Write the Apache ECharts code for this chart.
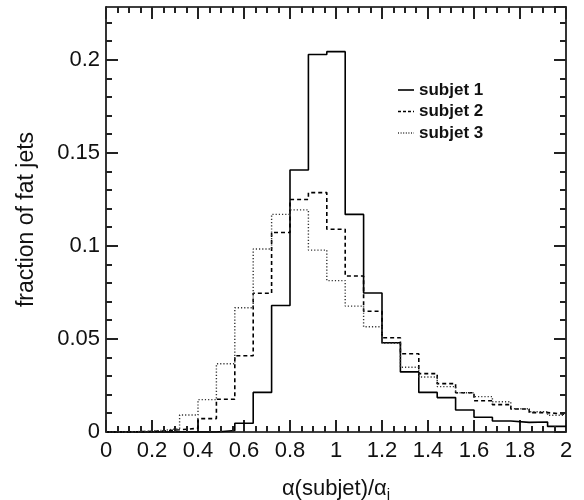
<!DOCTYPE html>
<html>
<head>
<meta charset="utf-8">
<script src="https://cdn.jsdelivr.net/npm/echarts@6/dist/echarts.min.js"></script>
<style>
html,body{margin:0;padding:0;background:#fff;}
#chart{width:584px;height:500px;}
</style>
</head>
<body>
<div id="chart"></div>
<script>
// histogram binning: 25 bins of width 0.08 from 0 to 2
var binStart = 0;
var binWidth = 0.08;
var seriesNames = ['subjet 1', 'subjet 2', 'subjet 3'];
var subjet1 = [0, 0, 0, 0, 0, 0, 0.0008, 0.0047, 0.0213, 0.068, 0.1409, 0.203, 0.2045, 0.117, 0.0747, 0.048, 0.0323, 0.0213, 0.0185, 0.0118, 0.0079, 0.0059, 0.0052, 0.0054, 0.003];
var subjet2 = [0, 0.0002, 0.0005, 0.0012, 0.002, 0.0072, 0.0176, 0.041, 0.0746, 0.1073, 0.125, 0.1287, 0.109, 0.0839, 0.0649, 0.0507, 0.0421, 0.0314, 0.026, 0.0211, 0.0168, 0.0147, 0.0124, 0.0104, 0.0095];
var subjet3 = [0, 0.0003, 0.0008, 0.0018, 0.0091, 0.0174, 0.0367, 0.0668, 0.0984, 0.117, 0.1194, 0.0978, 0.0814, 0.0677, 0.0566, 0.0477, 0.0348, 0.0296, 0.0244, 0.0211, 0.019, 0.0163, 0.0125, 0.0109, 0.009];
var xTickValues = [0, 0.2, 0.4, 0.6, 0.8, 1, 1.2, 1.4, 1.6, 1.8, 2];
var yTickValues = [0, 0.05, 0.1, 0.15, 0.2];
var yTickLabels = ['0', '0.05', '0.1', '0.15', '0.2'];
var xMinorPerMajor = 4;
var yMinorPerMajor = 5;

function histData(vals) {
  var d = [];
  for (var i = 0; i < vals.length; i++) d.push([binStart + i * binWidth, vals[i]]);
  d.push([binStart + vals.length * binWidth, vals[vals.length - 1]]);
  return d;
}

var FONT = '"Liberation Sans", Arial, Helvetica, sans-serif';
var X_MIN = 0, X_MAX = 2, Y_MIN = 0, Y_MAX = 0.2285;
var MAJOR_LEN = 12, MINOR_LEN = 6;
var TICK_W = 2, TICK_COLOR = '#222';
var chart = echarts.init(document.getElementById('chart'));

function xAxisDef(pos, showLabels) {
  return {
    type: 'value', position: pos, min: X_MIN, max: X_MAX, interval: 0.2,
    axisLine: {show: true, onZero: false, lineStyle: {color: '#000', width: 1.6}},
    axisTick: {show: true, inside: true, length: MAJOR_LEN, lineStyle: {color: TICK_COLOR, width: TICK_W}},
    splitLine: {show: false},
    axisLabel: {show: showLabels, margin: 8, color: '#111', fontFamily: FONT, fontSize: 22,
      formatter: function (v) { return String(+v.toFixed(2)); }}
  };
}
function yAxisDef(pos, showLabels) {
  return {
    type: 'value', position: pos, min: Y_MIN, max: Y_MAX, interval: 0.05,
    axisLine: {show: true, onZero: false, lineStyle: {color: '#000', width: 1.6}},
    axisTick: {show: true, inside: true, length: MAJOR_LEN, lineStyle: {color: TICK_COLOR, width: TICK_W}},
    splitLine: {show: false},
    axisLabel: {show: showLabels, showMaxLabel: false, margin: 6, color: '#111', fontFamily: FONT, fontSize: 22,
      formatter: function (v) {
        for (var k = 0; k < yTickValues.length; k++) {
          if (Math.abs(v - yTickValues[k]) < 1e-6) return yTickLabels[k];
        }
        return '';
      }}
  };
}

var xb = xAxisDef('bottom', true);
xb.name = 'α(subjet)/α{sub|j}';
xb.nameLocation = 'middle';
xb.nameGap = 43;
xb.nameTextStyle = {color: '#111', fontFamily: FONT, fontSize: 22,
  rich: {sub: {fontFamily: FONT, fontSize: 15, color: '#111', verticalAlign: 'bottom', padding: [12, 0, 0, 0]}}};
var xt = xAxisDef('top', false);
var yl = yAxisDef('left', true);
yl.name = 'fraction of fat jets';
yl.nameLocation = 'middle';
yl.nameGap = 68;
yl.nameTextStyle = {color: '#111', fontFamily: FONT, fontSize: 23};
var yr = yAxisDef('right', false);

// minor tick marks (inside, all four sides), placed through the axes' scales
var tickData = [];
for (var i = 0; i < xTickValues.length - 1; i++) {
  var xv = xTickValues[i];
  var xs = (xTickValues[i + 1] - xv) / xMinorPerMajor;
  for (var m = 1; m < xMinorPerMajor; m++) {
    tickData.push([xv + m * xs, Y_MIN, 0, MINOR_LEN], [xv + m * xs, Y_MAX, 1, MINOR_LEN]);
  }
}
for (var j = 0; j < yTickValues.length; j++) {
  var yv = yTickValues[j];
  var ys = 0.05 / yMinorPerMajor;
  for (var n = 1; n < yMinorPerMajor; n++) {
    var mv = yv + n * ys;
    if (mv < Y_MAX) tickData.push([X_MIN, mv, 2, MINOR_LEN], [X_MAX, mv, 3, MINOR_LEN]);
  }
}

var ticksSeries = {
  type: 'custom', name: 'ticks', coordinateSystem: 'cartesian2d', xAxisIndex: 0, yAxisIndex: 0,
  clip: false, silent: true, animation: false, z: 5,
  dimensions: ['x', 'y', 'side', 'len'],
  encode: {x: 0, y: 1},
  data: tickData,
  renderItem: function (params, api) {
    var p = api.coord([api.value(0), api.value(1)]);
    var side = api.value(2), len = api.value(3);
    var x = Math.round(p[0]), y = Math.round(p[1]);
    var x2 = x, y2 = y;
    if (side === 0) y2 = y - len;
    else if (side === 1) y2 = y + len;
    else if (side === 2) x2 = x + len;
    else x2 = x - len;
    return {type: 'line', shape: {x1: x, y1: y, x2: x2, y2: y2}, style: {stroke: TICK_COLOR, lineWidth: TICK_W}};
  }
};

var styles = [
  {type: 'solid', width: 1.6, color: '#000'},
  {type: [4, 3], width: 1.6, color: '#000'},
  {type: [1.2, 2], width: 1.4, color: '#333'}
];
var datas = [subjet1, subjet2, subjet3];
var series = datas.map(function (vals, i) {
  return {
    name: seriesNames[i], type: 'line', step: 'end', xAxisIndex: 0, yAxisIndex: 0,
    data: histData(vals), symbol: 'none', animation: false, z: 3,
    lineStyle: styles[i], itemStyle: {color: styles[i].color}
  };
});
series.push(ticksSeries);

// legend drawn as graphic (line samples + bold text)
var legendLeft = 398, legendTop = 90, legendGap = 21.5;
var graphics = [];
seriesNames.forEach(function (nm, i) {
  var y = legendTop + i * legendGap;
  graphics.push({type: 'line', shape: {x1: legendLeft, y1: y, x2: legendLeft + 16, y2: y},
    style: {stroke: styles[i].color, lineWidth: styles[i].width, lineDash: styles[i].type === 'solid' ? null : (i === 1 ? [3, 2] : [1, 1.6])}, z: 10});
  graphics.push({type: 'text', x: legendLeft + 21, y: y,
    style: {text: nm, fill: '#111', font: 'bold 17px ' + FONT, verticalAlign: 'middle', textVerticalAlign: 'middle'}, z: 10});
});

chart.setOption({
  animation: false,
  grid: {left: 106, right: 18, top: 7, bottom: 68, containLabel: false, outerBoundsMode: 'none'},
  xAxis: [xb, xt],
  yAxis: [yl, yr],
  series: series,
  graphic: graphics
});
</script>
</body>
</html>
